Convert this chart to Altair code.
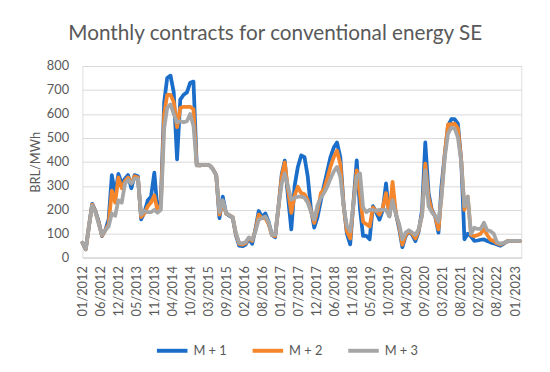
import altair as alt
import pandas as pd

TITLE = "Monthly contracts for conventional energy SE"
SERIES = ["M + 1", "M + 2", "M + 3"]
COLORS = ["#1A6DC9", "#F5862B", "#A6A6A6"]
START_MONTH = "2012-01-01"

M1 = [63, 35, 130, 225, 195, 150, 90, 115, 160, 345,
      265, 350, 310, 330, 345, 290, 345, 340, 160, 190,
      240, 255, 355, 200, 240, 650, 750, 760, 690, 410,
      660, 680, 690, 730, 735, 390, 385, 388, 388, 385,
      370, 345, 165, 255, 185, 175, 168, 95, 50, 48,
      55, 80, 58, 120, 195, 170, 185, 150, 95, 85,
      210, 350, 405, 250, 118, 300, 379, 427, 420, 340,
      200, 126, 170, 240, 300, 360, 420, 460, 481, 420,
      220, 100, 56, 230, 406, 200, 91, 91, 77, 215,
      190, 159, 200, 310, 173, 270, 185, 120, 44, 90,
      110, 95, 69, 110, 200, 481, 269, 200, 173, 105,
      300, 434, 550, 578, 578, 560, 406, 77, 100, 89,
      70, 72, 75, 77, 70, 64, 60, 55, 50, 58,
      68, 70, 70, 70, 70]

M2 = [63, 35, 130, 222, 192, 145, 92, 115, 140, 280,
      230, 335, 290, 320, 335, 310, 340, 335, 170, 185,
      215, 230, 260, 195, 220, 600, 680, 680, 650, 545,
      625, 630, 630, 630, 620, 385, 385, 388, 388, 385,
      370, 345, 180, 235, 185, 178, 170, 100, 58, 55,
      60, 82, 70, 115, 180, 165, 165, 140, 95, 90,
      210, 340, 398, 280, 187, 260, 296, 270, 265, 240,
      195, 145, 200, 270, 285, 330, 380, 420, 447, 390,
      215, 110, 80, 225, 365, 260, 150, 140, 130, 210,
      195, 180, 210, 270, 175, 317, 185, 130, 55, 95,
      110, 100, 80, 115, 180, 393, 250, 195, 173, 118,
      260, 434, 557, 557, 560, 540, 406, 200, 255, 95,
      90, 95, 100, 120, 95, 75, 70, 60, 55, 60,
      68, 70, 70, 70, 70]

M3 = [63, 35, 130, 218, 190, 140, 95, 115, 130, 185,
      175, 240, 230, 310, 325, 310, 330, 330, 180, 195,
      190, 190, 200, 188, 200, 540, 625, 640, 600, 565,
      570, 565, 570, 600, 550, 385, 385, 388, 388, 385,
      370, 345, 190, 240, 188, 178, 170, 105, 62, 60,
      65, 85, 75, 110, 160, 165, 172, 148, 95, 95,
      214, 310, 352, 296, 242, 250, 255, 255, 250, 230,
      190, 159, 220, 250, 270, 296, 330, 360, 379, 337,
      215, 132, 110, 220, 340, 352, 210, 190, 200, 200,
      195, 200, 200, 200, 173, 240, 180, 140, 77, 105,
      115, 105, 95, 120, 175, 365, 214, 190, 173, 150,
      250, 420, 517, 543, 540, 502, 400, 214, 255, 100,
      125, 120, 120, 146, 115, 111, 100, 64, 58, 62,
      68, 70, 70, 70, 70]

TICK_DATES = ["2012-01-02", "2012-06-18", "2012-12-03", "2013-05-20", "2013-11-04",
              "2014-04-21", "2014-10-06", "2015-03-23", "2015-09-07", "2016-02-22",
              "2016-08-08", "2017-01-23", "2017-07-10", "2017-12-25", "2018-06-11",
              "2018-11-26", "2019-05-13", "2019-10-28", "2020-04-13", "2020-09-28",
              "2021-03-15", "2021-08-30", "2022-02-14", "2022-08-01", "2023-01-16"]
X_DOMAIN = ["2012-01-01", "2023-03-15"]
Y_TICKS = [0, 100, 200, 300, 400, 500, 600, 700, 800]


def to_ms(s):
    return int(pd.Timestamp(s, tz="UTC").timestamp() * 1000)


months = pd.date_range(START_MONTH, periods=len(M1), freq="MS")
rows = []
for name, vals in zip(SERIES, [M1, M2, M3]):
    for d, v in zip(months, vals):
        rows.append({"date": d.strftime("%Y-%m-%d"), "series": name, "value": v})
df = pd.DataFrame(rows)

TXT = "#595959"
FONT = "Lato"

chart = alt.Chart(df).mark_line(strokeWidth=3.8, strokeJoin="round", strokeCap="round").encode(
    x=alt.X("date:T",
            scale=alt.Scale(type="utc", domain=[to_ms(X_DOMAIN[0]), to_ms(X_DOMAIN[1])]),
            axis=alt.Axis(values=[to_ms(t) for t in TICK_DATES],
                          labelExpr="utcFormat(datum.value, '%m/%Y')",
                          labelAngle=270, title=None, grid=False, ticks=False,
                          domainColor="#D9D9D9", labelPadding=8, labelFontSize=13,
                          labelColor=TXT, labelFont=FONT, labelOverlap=False,
                          labelFlush=False, labelBound=False)),
    y=alt.Y("value:Q", scale=alt.Scale(domain=[0, 800]),
            axis=alt.Axis(values=Y_TICKS, title="BRL/MWh", grid=True, gridColor="#D9D9D9",
                          domain=False, ticks=False, labelPadding=14, titlePadding=4,
                          titleFontSize=13, titleFontWeight="normal", titleColor=TXT,
                          titleFont=FONT, labelFontSize=13, labelColor=TXT, labelFont=FONT)),
    color=alt.Color("series:N", scale=alt.Scale(domain=SERIES, range=COLORS),
                    legend=alt.Legend(orient="none", legendX=73.5, legendY=271,
                                      direction="horizontal", title=None,
                                      symbolType="stroke", symbolSize=961,
                                      symbolStrokeWidth=4, labelFontSize=13,
                                      labelColor=TXT, labelFont=FONT,
                                      columnPadding=18, labelOffset=4, padding=0)),
).properties(
    width=445,
    height=194.4,
    autosize="none",
    padding={"left": 75.5, "top": 56.3, "right": 21, "bottom": 113},
    title=alt.TitleParams(TITLE, fontSize=21, font=FONT, color=TXT, fontWeight="normal",
                          anchor="middle", dx=-27, dy=4, offset=3, baseline="alphabetic"),
).configure_view(stroke=None).configure(background="white")

chart.save("out.html", embed_options={"renderer": "svg", "actions": False})
